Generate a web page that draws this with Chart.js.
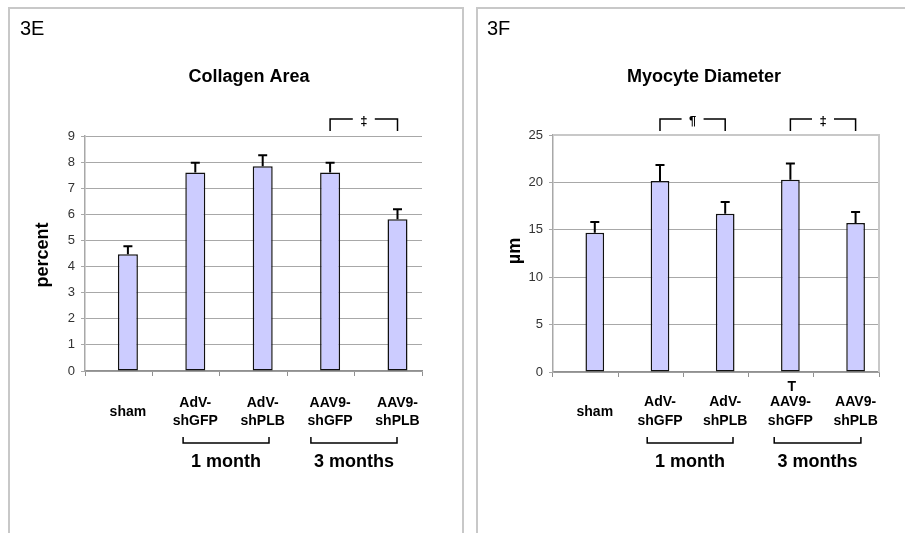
<!DOCTYPE html>
<html>
<head>
<meta charset="utf-8">
<script src="https://cdn.jsdelivr.net/npm/chart.js@4.4.1/dist/chart.umd.min.js"></script>
<style>
  body { margin: 0; background: #fff; width: 905px; height: 533px; overflow: hidden; position: relative; }
  .panel { position: absolute; top: 7px; height: 560px; border: 2px solid #c8c8c8; box-sizing: border-box; }
  #p1 { left: 8px; width: 456px; }
  #p2 { left: 476px; width: 460px; }
  canvas { position: absolute; top: 0; }
  #c1 { left: 0; }
  #c2 { left: 470px; }
</style>
</head>
<body>
<div class="panel" id="p1"></div>
<div class="panel" id="p2"></div>
<canvas id="c1" width="470" height="533"></canvas>
<canvas id="c2" width="435" height="533"></canvas>
<script>
const FONT = '"Liberation Sans", Arial, sans-serif';

// groups on the x axis
const groups = [['sham'], ['AdV-', 'shGFP'], ['AdV-', 'shPLB'], ['AAV9-', 'shGFP'], ['AAV9-', 'shPLB']];

// 3E collagen area (percent), mean and upper error
const collagenMean = [4.47, 7.6, 7.84, 7.6, 5.81];
const collagenErr = [0.31, 0.38, 0.42, 0.38, 0.38];

// 3F myocyte diameter (um), mean and upper error
const diameterMean = [14.7, 20.15, 16.7, 20.28, 15.72];
const diameterErr = [1.13, 1.68, 1.23, 1.72, 1.16];

const blank = [null, null, null, null, null];

// draws the error bars, titles and brackets on top of the bars
const extras = {
    id: 'extras',
    afterDatasetsDraw(chart, args, o) {
        const ctx = chart.ctx;
        const y = chart.scales.y;
        const x = chart.scales.x;
        const bars = chart.getDatasetMeta(1).data;
        ctx.save();
        ctx.fillStyle = '#000';
        ctx.strokeStyle = '#000';

        // error bars (upper only)
        ctx.lineWidth = 2;
        bars.forEach((b, i) => {
            const top = y.getPixelForValue(o.mean[i] + o.err[i]);
            ctx.beginPath();
            ctx.moveTo(b.x, b.y);
            ctx.lineTo(b.x, top);
            ctx.moveTo(b.x - 4.5, top);
            ctx.lineTo(b.x + 4.5, top);
            ctx.stroke();
        });

        if (o.frame) {
            const a = chart.chartArea;
            ctx.strokeStyle = '#c8c8c8';
            ctx.lineWidth = 2;
            ctx.beginPath();
            ctx.moveTo(a.left, a.top);
            ctx.lineTo(a.right, a.top);
            ctx.lineTo(a.right, a.bottom);
            ctx.stroke();
            ctx.strokeStyle = '#000';
        }

        // panel label and title
        ctx.textBaseline = 'middle';
        ctx.textAlign = 'left';
        ctx.font = '20px ' + FONT;
        ctx.fillText(o.panel, o.panelX, 29);
        ctx.textAlign = 'center';
        ctx.font = 'bold 18px ' + FONT;
        ctx.fillText(o.title, o.titleX, 77);

        // y axis title
        ctx.save();
        ctx.translate(o.yTitleX, o.yTitleY);
        ctx.rotate(-Math.PI / 2);
        ctx.fillText(o.yTitle, 0, 0);
        ctx.restore();

        // significance brackets over bar pairs
        ctx.lineWidth = 1.5;
        ctx.font = 'bold 13px ' + FONT;
        o.sig.forEach(s => {
            const x0 = bars[s[0]].x, x1 = bars[s[1]].x;
            const mid = (x0 + x1) / 2;
            ctx.beginPath();
            ctx.moveTo(x0, 131);
            ctx.lineTo(x0, 119);
            ctx.lineTo(mid - 11, 119);
            ctx.moveTo(mid + 11, 119);
            ctx.lineTo(x1, 119);
            ctx.lineTo(x1, 131);
            ctx.stroke();
            ctx.fillText(s[2], mid, 121);
        });

        // time groups under the labels
        ctx.font = 'bold 18px ' + FONT;
        o.groups.forEach(g => {
            const x0 = x.getPixelForValue(g[0]) + g[2];
            const x1 = x.getPixelForValue(g[1]) + g[3];
            ctx.beginPath();
            ctx.moveTo(x0, 437);
            ctx.lineTo(x0, 443);
            ctx.lineTo(x1, 443);
            ctx.lineTo(x1, 437);
            ctx.stroke();
            ctx.fillText(g[4], (x0 + x1) / 2, 462);
        });

        if (o.mark) {
            ctx.font = 'bold 14px ' + FONT;
            ctx.fillText('T', bars[o.mark].x + 1.5, 387);
        }
        ctx.restore();
    }
};

function makeChart(id, mean, yMax, yStep, area, barPct, catPct, lblPad, extra) {
    return new Chart(document.getElementById(id), {
        type: 'bar',
        data: {
            labels: groups,
            datasets: [{
                data: blank
            }, {
                data: mean,
                backgroundColor: '#ccccff',
                borderColor: '#111',
                borderWidth: 1.5,
                borderSkipped: false
            }]
        },
        options: {
            responsive: false,
            animation: false,
            barPercentage: barPct,
            categoryPercentage: catPct,
            layout: {
                padding: { left: 0, top: area.top, right: area.right, bottom: 0 }
            },
            plugins: {
                legend: { display: false },
                tooltip: { enabled: false },
                extras: extra
            },
            scales: {
                x: {
                    afterFit: s => { s.height = area.bottom; },
                    grid: {
                        offset: true,
                        drawOnChartArea: false,
                        color: '#909090',
                        tickLength: 5
                    },
                    border: { color: '#909090', width: 1.5 },
                    ticks: {
                        color: '#000',
                        font: { family: FONT, size: 14, weight: 'bold', lineHeight: 1.32 },
                        padding: lblPad,
                        labelOffset: 9.2,
                        crossAlign: 'center',
                        maxRotation: 0,
                        autoSkip: false
                    }
                },
                y: {
                    min: 0,
                    max: yMax,
                    afterFit: s => { s.width = area.left; },
                    grid: { color: '#a8a8a8', tickLength: 4 },
                    border: { color: '#a8a8a8', width: 1.5 },
                    ticks: {
                        stepSize: yStep,
                        color: '#333',
                        padding: 6,
                        font: { family: FONT, size: 13 }
                    }
                }
            }
        },
        plugins: [extras]
    });
}

makeChart('c1', collagenMean, 9, 1,
    { left: 85, top: 136, right: 48, bottom: 162 }, 1.087, 0.546, 27, {
        mean: collagenMean, err: collagenErr,
        panel: '3E', panelX: 20,
        title: 'Collagen Area', titleX: 249,
        yTitle: 'percent', yTitleX: 43, yTitleY: 255,
        sig: [[3, 4, '‡']],
        groups: [[1, 2, -3, 15.5, '1 month'], [3, 4, -10, 8.7, '3 months']],
        frame: false
    });

makeChart('c2', diameterMean, 25, 5,
    { left: 83, top: 135, right: 26, bottom: 161 }, 1.016, 0.564, 25.5, {
        mean: diameterMean, err: diameterErr,
        panel: '3F', panelX: 17,
        title: 'Myocyte Diameter', titleX: 234,
        yTitle: 'µm', yTitleX: 45, yTitleY: 251,
        sig: [[1, 2, '¶'], [3, 4, '‡']],
        groups: [[1, 2, -3.6, 17, '1 month'], [3, 4, -7, 14.5, '3 months']],
        frame: true,
        mark: 3
    });
</script>
</body>
</html>
